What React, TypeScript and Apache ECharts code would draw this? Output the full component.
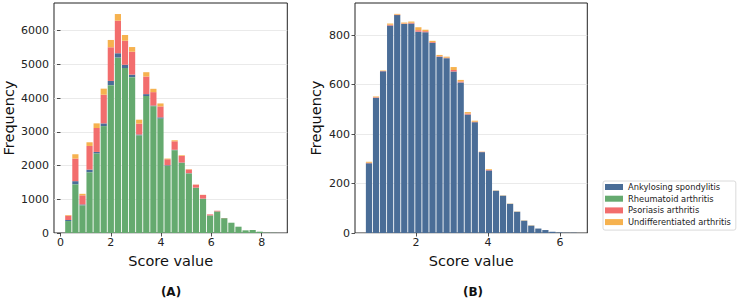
import React, { useEffect, useRef } from "react";
import * as echarts from "echarts";

const NAMES = [
  "Ankylosing spondylitis",
  "Rheumatoid arthritis",
  "Psoriasis arthritis",
  "Undifferentiated arthritis",
];
const COLORS = ["#4a6d97", "#65aa6f", "#f26d6d", "#f6b24f"];

// Panel A: bin centres (score value) and counts per diagnosis
const binsA = [
  0.31, 0.592, 0.874, 1.156, 1.438, 1.72, 2.002, 2.284, 2.566, 2.848, 3.13, 3.412, 3.694, 3.976, 4.258,
  4.54, 4.822, 5.104, 5.386, 5.668, 5.95, 6.232, 6.514, 6.796, 7.078, 7.36, 7.642, 7.924, 8.206, 8.488,
];
const raA = [
  355, 1440, 818, 1800, 2355, 3170, 4384, 5200, 4890, 4621, 2892, 4059, 3760, 3389, 1990, 2453, 2079, 1764,
  1340, 1015, 522, 640, 440, 305, 187, 79, 89, 39, 10, 5,
];
const asA = [
  30, 97, 29, 80, 49, 80, 125, 130, 100, 75, 29, 59, 19, 40, 20, 15, 10, 10, 5, 5, 0, 0, 0, 0, 0, 0, 0, 0, 0, 0,
];
const psaA = [
  127, 670, 270, 701, 709, 850, 998, 966, 710, 680, 321, 522, 398, 325, 177, 251, 196, 108, 88, 108, 30, 20, 5,
  0, 0, 0, 0, 0, 0, 0,
];
const uaA = [
  20, 128, 45, 109, 138, 180, 217, 197, 170, 138, 118, 128, 99, 88, 20, 30, 20, 10, 5, 5, 0, 0, 0, 0, 0, 0, 0, 0,
  0, 0,
];

// Panel B
const binsB = [
  0.694, 0.89, 1.086, 1.282, 1.478, 1.674, 1.87, 2.066, 2.262, 2.458, 2.654, 2.85, 3.046, 3.242, 3.438, 3.634,
  3.83, 4.026, 4.222, 4.418, 4.614, 4.81, 5.006, 5.202, 5.398, 5.594, 5.79, 5.986, 6.182, 6.378,
];
const asB = [
  282, 547, 654, 839, 881, 845, 847, 814, 812, 769, 713, 707, 653, 609, 479, 448, 327, 253, 171, 151, 118, 86,
  50, 30, 18, 12, 5, 2, 1, 1,
];
const raB = [
  0, 0, 0, 0, 0, 0, 0, 0, 0, 0, 0, 0, 0, 0, 0, 0, 0, 0, 0, 0, 0, 0, 0, 0, 0, 0, 0, 0, 0, 0,
];
const psaB = [
  2, 2, 1, 3, 2, 2, 3, 6, 4, 3, 2, 2, 6, 4, 4, 2, 1, 2, 0, 0, 0, 0, 0, 0, 0, 0, 0, 0, 0, 0,
];
const uaB = [
  4, 3, 2, 5, 3, 4, 5, 12, 6, 5, 5, 4, 12, 6, 6, 4, 1, 3, 1, 1, 1, 1, 1, 1, 0, 0, 0, 0, 0, 0,
];

const xTicksA = [0, 2, 4, 6, 8];
const yTicksA = [0, 1000, 2000, 3000, 4000, 5000, 6000];
const xTicksB = [2, 4, 6];
const yTicksB = [0, 200, 400, 600, 800];

const FONT = "DejaVu Sans";
const BAR_PX = 6.2;

// Build stacked [x, bottom, top] triples for a list of layers (bottom → top)
function stackLayers(xs: number[], layers: number[][]) {
  const base = xs.map(() => 0);
  return layers.map((layer) =>
    xs.map((x, i) => {
      const b = base[i];
      base[i] += layer[i];
      return [x, b, base[i]];
    })
  );
}

export default function App() {
  const ref = useRef<HTMLDivElement>(null);
  useEffect(() => {
    if (!ref.current) return;
    const chart = echarts.init(ref.current, undefined, { renderer: "svg" });

    const axisCommon = {
      axisLine: { show: false },
      axisTick: { show: true, inside: false, length: 3.5, lineStyle: { color: "#222", width: 0.8 } },
      axisLabel: { color: "#222", fontSize: 11, fontFamily: FONT, formatter: (v: number) => String(v) },
      nameTextStyle: { color: "#111", fontSize: 14.5, fontFamily: FONT },
    };

    const xAxis = [
      {
        type: "value",
        gridIndex: 0,
        min: -0.258,
        max: 9.02,
        ...axisCommon,
        axisTick: { ...axisCommon.axisTick, customValues: xTicksA },
        axisLabel: { ...axisCommon.axisLabel, margin: 4, customValues: xTicksA },
        splitLine: { show: false },
        name: "Score value",
        nameLocation: "middle",
        nameGap: 20,
      },
      {
        type: "value",
        gridIndex: 1,
        min: 0.306,
        max: 6.758,
        ...axisCommon,
        axisTick: { ...axisCommon.axisTick, customValues: xTicksB },
        axisLabel: { ...axisCommon.axisLabel, margin: 4, customValues: xTicksB },
        splitLine: { show: false },
        name: "Score value",
        nameLocation: "middle",
        nameGap: 20,
      },
    ];
    const yAxis = [
      {
        type: "value",
        gridIndex: 0,
        min: 0,
        max: 6820,
        interval: 1000,
        ...axisCommon,
        axisTick: { ...axisCommon.axisTick, customValues: yTicksA },
        axisLabel: { ...axisCommon.axisLabel, margin: 5, customValues: yTicksA },
        splitLine: { show: true, lineStyle: { color: "#e4e4e4", width: 0.8 } },
        name: "Frequency",
        nameLocation: "middle",
        nameGap: 38,
      },
      {
        type: "value",
        gridIndex: 1,
        min: 0,
        max: 930,
        interval: 200,
        ...axisCommon,
        axisTick: { ...axisCommon.axisTick, customValues: yTicksB },
        axisLabel: { ...axisCommon.axisLabel, margin: 5, customValues: yTicksB },
        splitLine: { show: true, lineStyle: { color: "#e4e4e4", width: 0.8 } },
        name: "Frequency",
        nameLocation: "middle",
        nameGap: 32,
      },
    ];

    const mk = (name: string, color: string, data: number[][], gi: number) => ({
      type: "custom",
      name,
      xAxisIndex: gi,
      yAxisIndex: gi,
      itemStyle: { color },
      encode: { x: 0, y: [1, 2] },
      renderItem: (_params: any, api: any) => {
        const x = api.value(0);
        const y0 = api.value(1);
        const y1 = api.value(2);
        if (!(y1 > y0)) return null;
        const pTop = api.coord([x, y1]);
        const pBot = api.coord([x, y0]);
        return {
          type: "rect",
          shape: { x: pTop[0] - BAR_PX / 2, y: pTop[1], width: BAR_PX, height: pBot[1] - pTop[1] },
          style: { fill: color },
        };
      },
      data,
    });

    // Panel A stacking: RA (bottom), AS, PsA, UA
    const [sRA_A, sAS_A, sPsA_A, sUA_A] = stackLayers(binsA, [raA, asA, psaA, uaA]);
    // Panel B stacking: AS (bottom), RA, PsA, UA
    const [sAS_B, sRA_B, sPsA_B, sUA_B] = stackLayers(binsB, [asB, raB, psaB, uaB]);

    const series = [
      mk(NAMES[0], COLORS[0], sAS_A, 0),
      mk(NAMES[1], COLORS[1], sRA_A, 0),
      mk(NAMES[2], COLORS[2], sPsA_A, 0),
      mk(NAMES[3], COLORS[3], sUA_A, 0),
      mk(NAMES[0], COLORS[0], sAS_B, 1),
      mk(NAMES[1], COLORS[1], sRA_B, 1),
      mk(NAMES[2], COLORS[2], sPsA_B, 1),
      mk(NAMES[3], COLORS[3], sUA_B, 1),
    ];

    chart.setOption({
      animation: false,
      backgroundColor: "#ffffff",
      textStyle: { fontFamily: FONT },
      grid: [
        { left: 54, top: 3, width: 233.3, height: 230, show: true, borderColor: "#222", borderWidth: 1, backgroundColor: "transparent" },
        { left: 355, top: 3, width: 232.3, height: 230, show: true, borderColor: "#222", borderWidth: 1, backgroundColor: "transparent" },
      ],
      xAxis,
      yAxis,
      legend: {
        data: NAMES,
        orient: "vertical",
        left: 603,
        top: 181,
        icon: "rect",
        itemWidth: 18,
        itemHeight: 6,
        itemGap: 3.7,
        padding: [2, 5, 4, 2],
        selectedMode: false,
        borderColor: "#d0d0d0",
        borderWidth: 0.8,
        borderRadius: 2,
        textStyle: { fontSize: 8.3, color: "#222", fontFamily: FONT },
      },
      graphic: [
        {
          type: "text",
          x: 171,
          y: 292,
          style: { text: "(A)", font: `bold 12px ${FONT}`, fill: "#111", textAlign: "center", textVerticalAlign: "middle" },
        },
        {
          type: "text",
          x: 473,
          y: 292,
          style: { text: "(B)", font: `bold 12px ${FONT}`, fill: "#111", textAlign: "center", textVerticalAlign: "middle" },
        },
      ],
      series,
    });
    return () => chart.dispose();
  }, []);
  return <div ref={ref} style={{ position: "fixed", left: 0, top: 0, width: 740, height: 300 }} />;
}
